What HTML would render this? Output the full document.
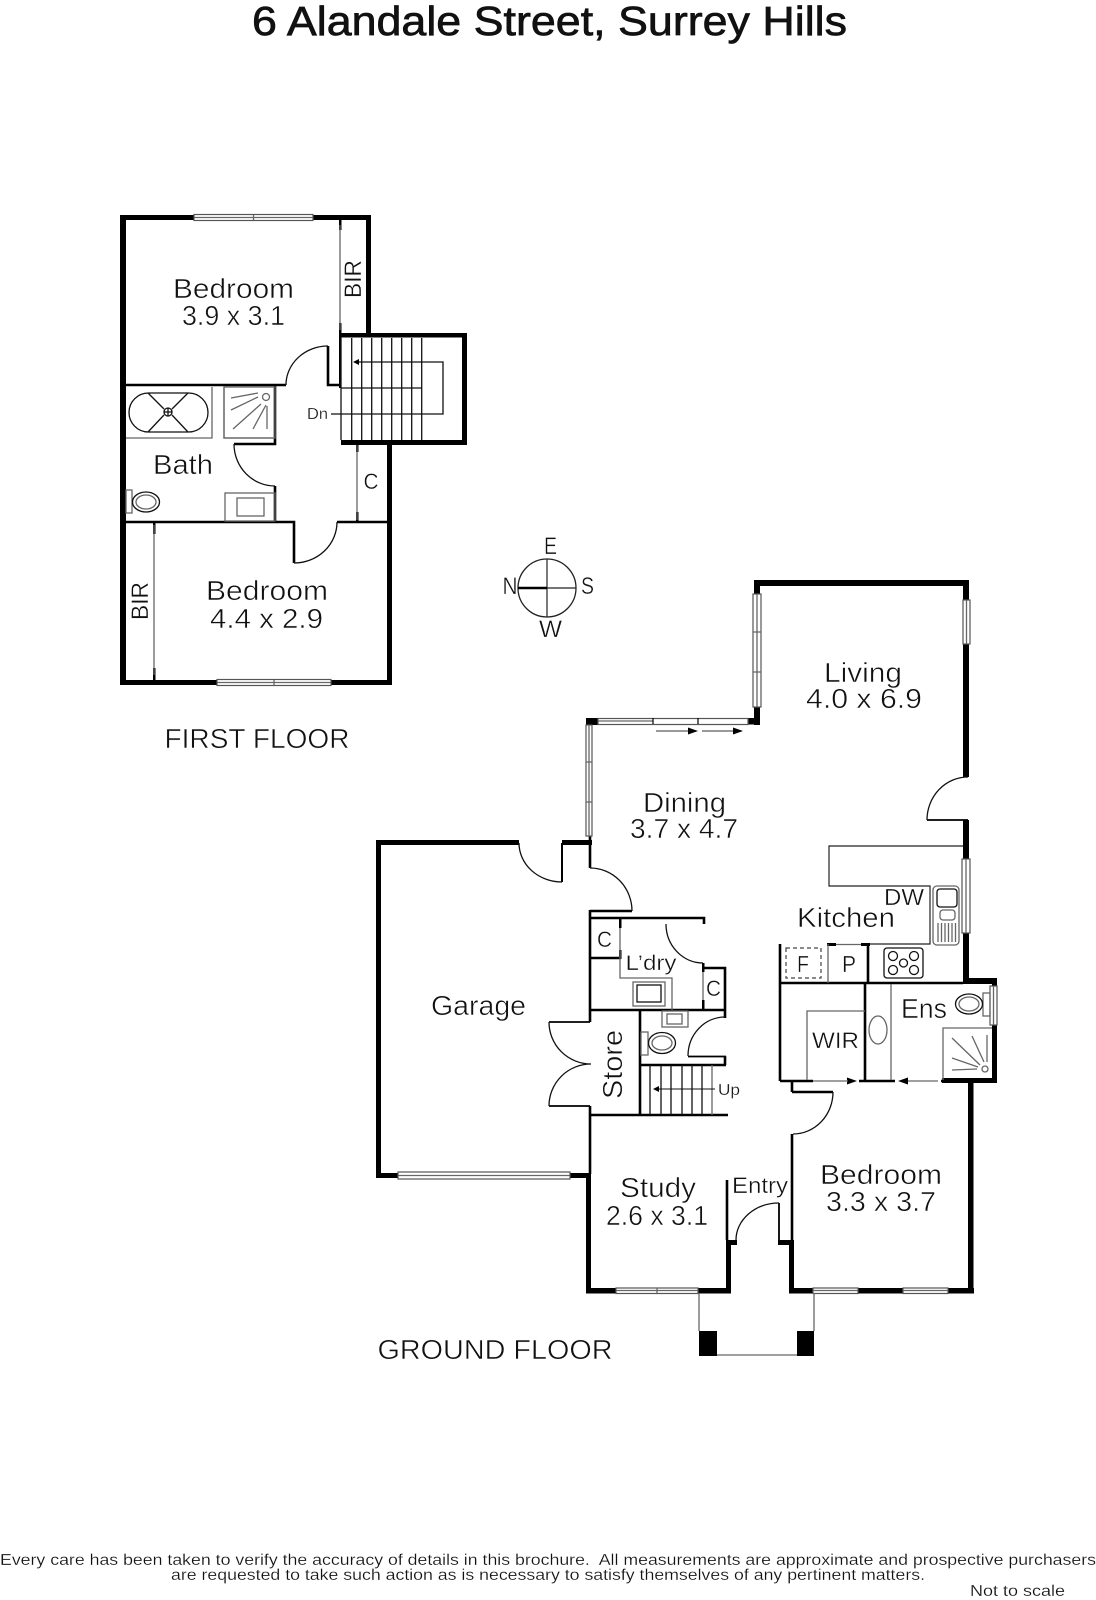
<!DOCTYPE html>
<html><head><meta charset="utf-8"><title>6 Alandale Street, Surrey Hills</title>
<style>
html,body{margin:0;padding:0;background:#fff}
svg{display:block}
text{font-family:"Liberation Sans",sans-serif;fill:#111}
.l{font-size:27.6px;stroke:#fff;stroke-width:.5}
.m{font-size:22px;stroke:#fff;stroke-width:.35}
.s{font-size:16px;stroke:#fff;stroke-width:.25}
.f{font-size:16px;stroke:#fff;stroke-width:.2}
.g{fill:none;stroke:#666;stroke-width:1.3}
.b{fill:none;stroke:#111;stroke-width:1.3}
.t{fill:none;stroke:#000;stroke-width:2.6}
.win{fill:#fff;stroke:#555;stroke-width:1.2}
</style></head><body>
<svg width="1096" height="1600" viewBox="0 0 1096 1600" xmlns="http://www.w3.org/2000/svg">
<rect width="1096" height="1600" fill="#fff"/>
<text x="252" y="35" font-size="40.5" stroke="#111" stroke-width=".7" textLength="595" lengthAdjust="spacingAndGlyphs">6 Alandale Street, Surrey Hills</text>

<!-- FIRST FLOOR walls -->
<g fill="#000">
<rect x="120" y="215" width="6" height="470"/>
<rect x="120" y="215" width="251" height="5"/>
<rect x="366" y="215" width="5" height="120"/>
<rect x="341" y="333" width="126" height="4.5"/>
<rect x="462" y="333" width="5" height="112"/>
<rect x="341" y="440" width="126" height="5"/>
<rect x="387" y="442" width="5" height="243"/>
<rect x="120" y="680" width="272" height="5"/>
<rect x="339" y="220" width="2.5" height="10"/>
<rect x="339" y="323" width="2.5" height="65"/>
<rect x="356" y="442" width="2.5" height="10"/>
<rect x="356" y="512" width="2.5" height="10"/>
<rect x="153" y="522" width="2.5" height="12"/>
<rect x="153" y="668" width="2.5" height="12"/>
</g>
<path class="t" d="M126 385H286M328 346V385H340M275 385V444H234M275 486V521M126 522H294V563M337 522H389"/>
<path class="b" d="M286 385A42 39 0 0 1 328 346M234 444A41 42 0 0 0 275 486M294 563A43 41 0 0 0 337 522"/>
<path class="g" d="M340 225V330M357 445V520M154 525V675"/>
<rect class="win" x="194" y="214.500" width="119" height="6"/><path class="g" d="M253.500 215V220M194 217.500H313"/>
<rect class="win" x="217" y="679.500" width="114" height="6"/><path class="g" d="M274 680V685M217 682.500H331"/>
<!-- first floor stairs -->
<path class="b" d="M341 338V440M351.700 338V440M361.700 338V440M371.700 338V440M381.700 338V440M391.700 338V440M401.700 338V440M411.700 338V440M421.700 338V440M341 388H421.700M331 414H443V362H357"/>
<path d="M353 362l6-3v6z" fill="#000"/>
<!-- bath fixtures -->
<path class="g" d="M126 438H212V387M224 387V438H275"/>
<rect class="g" x="224" y="387" width="51" height="51"/>
<rect class="b" x="129" y="393" width="79" height="39" rx="19.500"/>
<circle class="b" cx="168" cy="412" r="4"/>
<path class="b" d="M164 412H172M168 408V416M148 393L164 409M188 393L172 409M148 432L164 415M188 432L172 415"/>
<circle class="g" cx="266" cy="397" r="3.500"/>
<path class="g" d="M231 410L258 397M233 429L261 404M253 429L266 405M267 429L267 406M231 398L258 393"/>
<rect class="g" x="225" y="493" width="50" height="28"/>
<rect class="g" x="237" y="498" width="27" height="18"/>
<rect class="g" x="126" y="490" width="6" height="23"/>
<ellipse class="b" cx="146" cy="502" rx="13.500" ry="10"/><ellipse class="g" cx="146" cy="502" rx="10" ry="7"/>

<text class="l" x="173" y="298" textLength="121" lengthAdjust="spacingAndGlyphs">Bedroom</text>
<text class="l" x="182" y="325" textLength="103" lengthAdjust="spacingAndGlyphs">3.9 x 3.1</text>
<text class="m" transform="translate(361 298) rotate(-90)" textLength="38" lengthAdjust="spacingAndGlyphs" style="font-size:24.5px">BIR</text>
<text class="l" x="153" y="474" textLength="60" lengthAdjust="spacingAndGlyphs">Bath</text>
<text class="s" x="307" y="419" textLength="21" lengthAdjust="spacingAndGlyphs">Dn</text>
<text class="m" x="363.500" y="489" textLength="15" lengthAdjust="spacingAndGlyphs">C</text>
<text class="l" x="206" y="600" textLength="122" lengthAdjust="spacingAndGlyphs">Bedroom</text>
<text class="l" x="210" y="628" textLength="113" lengthAdjust="spacingAndGlyphs">4.4 x 2.9</text>
<text class="m" transform="translate(148 620) rotate(-90)" textLength="38" lengthAdjust="spacingAndGlyphs" style="font-size:24.5px">BIR</text>
<text class="l" x="164.500" y="748" textLength="185" lengthAdjust="spacingAndGlyphs">FIRST FLOOR</text>

<!-- compass -->
<circle cx="547" cy="588" r="29" fill="none" stroke="#222" stroke-width="1.3"/>
<path d="M547 559V617M547 588H576" stroke="#222" stroke-width="1.2"/>
<path d="M518 588H547" stroke="#000" stroke-width="2.6"/>
<text class="m" x="544" y="554" textLength="13" lengthAdjust="spacingAndGlyphs" style="font-size:24px">E</text>
<text class="m" x="502.500" y="594" textLength="15" lengthAdjust="spacingAndGlyphs" style="font-size:24px">N</text>
<text class="m" x="581" y="594" textLength="13" lengthAdjust="spacingAndGlyphs" style="font-size:24px">S</text>
<text class="m" x="539" y="637" textLength="23" lengthAdjust="spacingAndGlyphs" style="font-size:24px">W</text>

<!-- GROUND FLOOR outer walls -->
<g fill="#000">
<rect x="754" y="580" width="215" height="6"/>
<rect x="754" y="580" width="6" height="14"/>
<rect x="754" y="707" width="6" height="18"/>
<rect x="748" y="718" width="12" height="6.500"/>
<rect x="586" y="718" width="12" height="7"/>
<rect x="963" y="580" width="6" height="20"/>
<rect x="963" y="644" width="6" height="133"/>
<rect x="963" y="820" width="6" height="39"/>
<rect x="963" y="933" width="6" height="50"/>
<rect x="963" y="978" width="34" height="6"/>
<rect x="992" y="978" width="5" height="8"/>
<rect x="992" y="1025" width="5" height="58"/>
<rect x="942" y="1078" width="55" height="5"/>
<rect x="968" y="1078" width="5.500" height="215.500"/>
<rect x="789" y="1288" width="24" height="5.500"/>
<rect x="858" y="1288" width="45" height="5.500"/>
<rect x="948" y="1288" width="26" height="5.500"/>
<rect x="789" y="1240" width="5" height="53"/>
<rect x="778" y="1240" width="16" height="5"/>
<rect x="726" y="1240" width="11" height="5"/>
<rect x="726" y="1240" width="5" height="53"/>
<rect x="698" y="1288" width="33" height="5.500"/>
<rect x="586" y="1288" width="30" height="5.500"/>
<rect x="586" y="1173" width="5" height="120"/>
<rect x="376" y="840" width="143" height="5"/>
<rect x="376" y="840" width="5" height="338"/>
<rect x="376" y="1173" width="22" height="5"/>
<rect x="570" y="1173" width="21" height="5"/>
<rect x="562" y="840" width="30" height="5"/>
<!-- porch blocks -->
<rect x="699" y="1331" width="18" height="25"/>
<rect x="797" y="1331" width="17" height="25"/>
<!-- small wall ends -->
<rect x="619" y="919" width="2.500" height="9"/>
<rect x="619" y="950" width="2.500" height="9"/>
<rect x="702" y="963" width="2.500" height="9"/>
<rect x="702" y="1000" width="2.500" height="10"/>
<rect x="827" y="943" width="9" height="3"/>
<rect x="861" y="943" width="9" height="3"/>
</g>
<path class="t" d="M590 836V868M590 910V1022M590 1106V1174M590 911H632M591 918H704V924M591 958H621M703 968H725V1018M591 1010H726M725 1056V1065M640 1065H726M640 1010V1115M590 1115H728M780 944V1081M780 983H963M868 944V983M865 983V1081M780 1081H813M859 1081H895M941 1081H960M792 1080V1092M792 1092H833M792 1134V1240M727 1180V1240"/>
<path d="M562 843V882M832 1092" stroke="#000" stroke-width="2" fill="none"/>
<path d="M688 1056.500H726M927 820H968M549 1022H590M549 1106H590M779 1203V1240" stroke="#000" stroke-width="1.800" fill="none"/>
<!-- door arcs -->
<path class="b" d="M519 843A43 39 0 0 0 562 882M590 868A42 43 0 0 1 632 911M666 924A37 39 0 0 0 703 963M725 1017A37 39 0 0 0 688 1056M549 1022A42 42 0 0 0 591 1064M591 1064A42 42 0 0 0 549 1106M968 777A41 43 0 0 0 927 820M833 1092A40 42 0 0 1 793 1134M736 1240A43 37 0 0 1 779 1203"/>
<!-- windows -->
<g class="win">
<rect x="753" y="594" width="8" height="113"/>
<rect x="963" y="600" width="7" height="44"/>
<rect x="586" y="725" width="6" height="111"/>
<rect x="962" y="859" width="8" height="74"/>
<rect x="990" y="986" width="7" height="39"/>
<rect x="398" y="1172" width="172" height="7"/>
<rect x="616" y="1288" width="82" height="5.500"/>
<rect x="813" y="1288" width="45" height="5.500"/>
<rect x="903" y="1288" width="45" height="5.500"/>
<rect x="598" y="718.500" width="150" height="6"/>
</g>
<path class="g" d="M757 594V707M753 632H761M753 672H761M966.500 600V644M589 725V836M586 762H592M586 802H592M966 859V933M993.500 986V1025M398 1175.500H570M616 1290.500H698M657 1288V1293M813 1290.500H858M903 1290.500H948"/>
<path d="M598 721H653" stroke="#666" stroke-width="1.200"/>
<path d="M653 718V724M698 718V724" stroke="#000" stroke-width="1.200"/>
<!-- sliding door arrows -->
<path d="M656 731H689M702 731H734" stroke="#333" stroke-width="1"/>
<path d="M698 731l-10-3.500v7zM743 731l-10-3.500v7zM857 1081l-10-3.500v7zM898 1081l10-3.500v7z" fill="#000"/>
<path class="g" d="M813 1081H848M908 1081H938"/>
<!-- laundry -->
<path class="g" d="M620 928V978H672V1010M620 950V930M703 972V1000"/>
<rect class="g" x="633" y="982" width="32" height="24"/>
<rect class="b" x="637" y="985" width="24" height="17"/>
<!-- WC -->
<rect class="g" x="662" y="1011" width="26" height="16"/>
<rect class="g" x="667" y="1014" width="15" height="10"/>
<rect class="g" x="641" y="1032" width="7" height="23"/>
<ellipse class="b" cx="662" cy="1043" rx="13.500" ry="10.500"/><ellipse class="g" cx="662" cy="1043" rx="10" ry="7"/>
<!-- ground stairs -->
<path class="b" d="M650 1065V1115M661 1065V1115M671 1065V1115M682 1065V1115M692 1065V1115M702 1065V1115"/>
<path class="g" d="M712 1065V1115"/>
<path d="M715 1089H656" stroke="#111" stroke-width="1.100"/>
<path d="M653 1089l6-3v6z" fill="#000"/>
<!-- porch lines -->
<path class="g" d="M699 1293V1331M814 1293V1331M717 1355H797"/>
<!-- kitchen -->
<path d="M963 846H829V886H930V944H870" fill="none" stroke="#222" stroke-width="1.200"/>
<rect x="786" y="948" width="35" height="30" fill="none" stroke="#444" stroke-width="1.200" stroke-dasharray="4 3"/>
<path class="g" d="M828 944V983M836 944.500H861"/>
<rect class="b" x="884" y="948" width="39" height="30" rx="3"/>
<g class="b"><circle cx="893" cy="956" r="4.500"/><circle cx="914" cy="956" r="4.500"/><circle cx="893" cy="970" r="4.500"/><circle cx="914" cy="970" r="4.500"/><circle cx="903.500" cy="963" r="4"/></g>
<rect class="g" x="933" y="886" width="26" height="59" rx="4"/>
<rect class="b" x="937" y="889" width="20" height="18" rx="3"/>
<rect class="g" x="940" y="910" width="15" height="10" rx="3"/>
<path class="g" d="M938 923V942M941.500 923V942M945 923V942M948.500 923V942M952 923V942M955.500 923V942"/>
<!-- WIR / Ens -->
<path class="g" d="M891 984V1080M807 1080V1011H865"/>
<ellipse class="g" cx="878" cy="1030" rx="9" ry="14"/>
<rect class="g" x="983" y="993" width="7" height="23"/>
<ellipse class="b" cx="969" cy="1004" rx="13.500" ry="10"/><ellipse class="g" cx="969" cy="1004" rx="10" ry="7"/>
<path class="g" d="M943 1080V1028H992"/>
<circle class="g" cx="985" cy="1069" r="3"/>
<path class="g" d="M952 1038L980 1065M972 1036L984 1062M987 1035L987 1062M952 1058L978 1067M952 1070L977 1069"/>

<!-- GROUND FLOOR text -->
<text class="l" x="824" y="682" textLength="78" lengthAdjust="spacingAndGlyphs">Living</text>
<text class="l" x="806" y="708" textLength="116" lengthAdjust="spacingAndGlyphs">4.0 x 6.9</text>
<text class="l" x="643" y="812" textLength="83" lengthAdjust="spacingAndGlyphs">Dining</text>
<text class="l" x="630" y="838" textLength="108" lengthAdjust="spacingAndGlyphs">3.7 x 4.7</text>
<text class="m" x="884" y="905" textLength="40" lengthAdjust="spacingAndGlyphs" style="font-size:23px">DW</text>
<text class="l" x="797" y="927" textLength="98" lengthAdjust="spacingAndGlyphs">Kitchen</text>
<text class="m" x="597" y="947" textLength="15" lengthAdjust="spacingAndGlyphs">C</text>
<text class="m" x="625.500" y="970" textLength="51" lengthAdjust="spacingAndGlyphs" style="font-size:21px">L’dry</text>
<text class="m" x="706" y="996" textLength="15" lengthAdjust="spacingAndGlyphs">C</text>
<text class="m" x="797" y="972" textLength="12" lengthAdjust="spacingAndGlyphs" style="font-size:23px">F</text>
<text class="m" x="842" y="972" textLength="14" lengthAdjust="spacingAndGlyphs" style="font-size:23px">P</text>
<text class="l" x="901" y="1018" textLength="46" lengthAdjust="spacingAndGlyphs">Ens</text>
<text class="m" x="812" y="1048" textLength="47" lengthAdjust="spacingAndGlyphs">WIR</text>
<text class="l" x="431" y="1015" textLength="95" lengthAdjust="spacingAndGlyphs">Garage</text>
<text class="l" transform="translate(622 1099) rotate(-90)" textLength="69" lengthAdjust="spacingAndGlyphs">Store</text>
<text class="s" x="718" y="1095" textLength="22" lengthAdjust="spacingAndGlyphs">Up</text>
<text class="l" x="620" y="1197" textLength="76" lengthAdjust="spacingAndGlyphs">Study</text>
<text class="l" x="606" y="1225" textLength="102" lengthAdjust="spacingAndGlyphs">2.6 x 3.1</text>
<text class="m" x="732" y="1193" textLength="56" lengthAdjust="spacingAndGlyphs">Entry</text>
<text class="l" x="820" y="1184" textLength="122" lengthAdjust="spacingAndGlyphs">Bedroom</text>
<text class="l" x="826" y="1211" textLength="110" lengthAdjust="spacingAndGlyphs">3.3 x 3.7</text>
<text class="l" x="377.500" y="1359" textLength="235" lengthAdjust="spacingAndGlyphs">GROUND FLOOR</text>

<!-- footer -->
<text class="f" x="0" y="1565" textLength="1096" lengthAdjust="spacingAndGlyphs" xml:space="preserve">Every care has been taken to verify the accuracy of details in this brochure.  All measurements are approximate and prospective purchasers</text>
<text class="f" x="171" y="1580" textLength="754" lengthAdjust="spacingAndGlyphs">are requested to take such action as is necessary to satisfy themselves of any pertinent matters.</text>
<text class="f" x="970" y="1596" textLength="95" lengthAdjust="spacingAndGlyphs">Not to scale</text>
</svg>
</body></html>
